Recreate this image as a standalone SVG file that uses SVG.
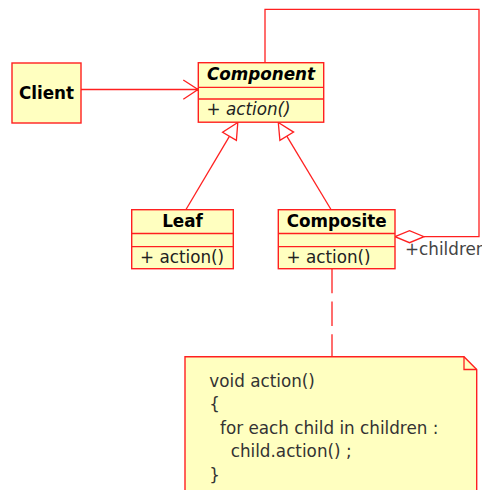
<svg xmlns="http://www.w3.org/2000/svg" width="482" height="490" viewBox="0 0 482 490">
<style>
.box{fill:#ffffc0;stroke:#ff2020;stroke-width:1.4}
.ln{fill:none;stroke:#ff2020;stroke-width:1.3}
.hd{fill:#fff;stroke:#ff2020;stroke-width:1.3}
text{font-family:"DejaVu Sans","Liberation Sans",sans-serif;font-size:16.8px}
.t{font-weight:bold;text-anchor:middle;fill:#000}
.m{fill:#222}
.n{fill:#333}
</style>
<rect width="482" height="490" fill="#fff"/>
<g id="connectors">
  <path class="ln" d="M81,89.5 L198,89.5"/>
  <path class="ln" d="M183.3,80 L198,89.5 L183.3,99.3"/>
  <circle cx="197" cy="89.5" r="1.6" fill="#ff2020"/>
  <path class="ln" d="M186,209.5 L229.4,136.3"/>
  <polygon class="hd" points="237.8,122.5 236.4,140.3 222.6,132.2"/>
  <path class="ln" d="M331,209.5 L286.8,136.2"/>
  <polygon class="hd" points="278.3,122.5 293.6,132.1 279.9,140.3"/>
  <path class="ln" d="M265,62.7 L265,9.3 L479,9.3 L479,236.7 L424,236.7"/>
  <polygon class="hd" points="395,236.7 409.5,230.7 424,236.7 409.5,242.7"/>
  <path class="ln" d="M332,269 L332,356.7" stroke-dasharray="24.3 8.3"/>
</g>
<g id="client">
  <rect class="box" x="12" y="63" width="69" height="60"/>
  <text class="t" x="46.5" y="98.5">Client</text>
</g>
<g id="component">
  <rect class="box" x="198.3" y="62.7" width="125.4" height="59.5"/>
  <path class="ln" d="M198.3,87.3 H323.7 M198.3,99 H323.7"/>
  <text class="t" x="261" y="80" font-style="italic">Component</text>
  <text class="m" x="206.5" y="115.3" font-style="italic">+ action()</text>
</g>
<g id="leaf">
  <rect class="box" x="131.7" y="209.7" width="101.6" height="59"/>
  <path class="ln" d="M131.7,233.5 H233.3 M131.7,246.7 H233.3"/>
  <text class="t" x="182.5" y="226.7">Leaf</text>
  <text class="m" x="140" y="263">+ action()</text>
</g>
<g id="composite">
  <rect class="box" x="278.3" y="209.7" width="116.7" height="59"/>
  <path class="ln" d="M278.3,233.5 H395 M278.3,246.7 H395"/>
  <text class="t" x="336.7" y="226.7">Composite</text>
  <text class="m" x="286.5" y="263">+ action()</text>
  <text x="405" y="255" fill="#444">+children</text>
</g>
<g id="note">
  <path class="box" d="M185,356.7 L464,356.7 L476.7,369.5 L476.7,495 L185,495 Z"/>
  <path class="ln" d="M464,356.7 L464,369.5 L476.7,369.5"/>
  <text class="n" x="209.3" y="386.5">void action()</text>
  <text class="n" x="209.3" y="410">{</text>
  <text class="n" x="220" y="433.5">for each child in children :</text>
  <text class="n" x="230.7" y="457">child.action() ;</text>
  <text class="n" x="209.3" y="480.5">}</text>
</g>
</svg>
